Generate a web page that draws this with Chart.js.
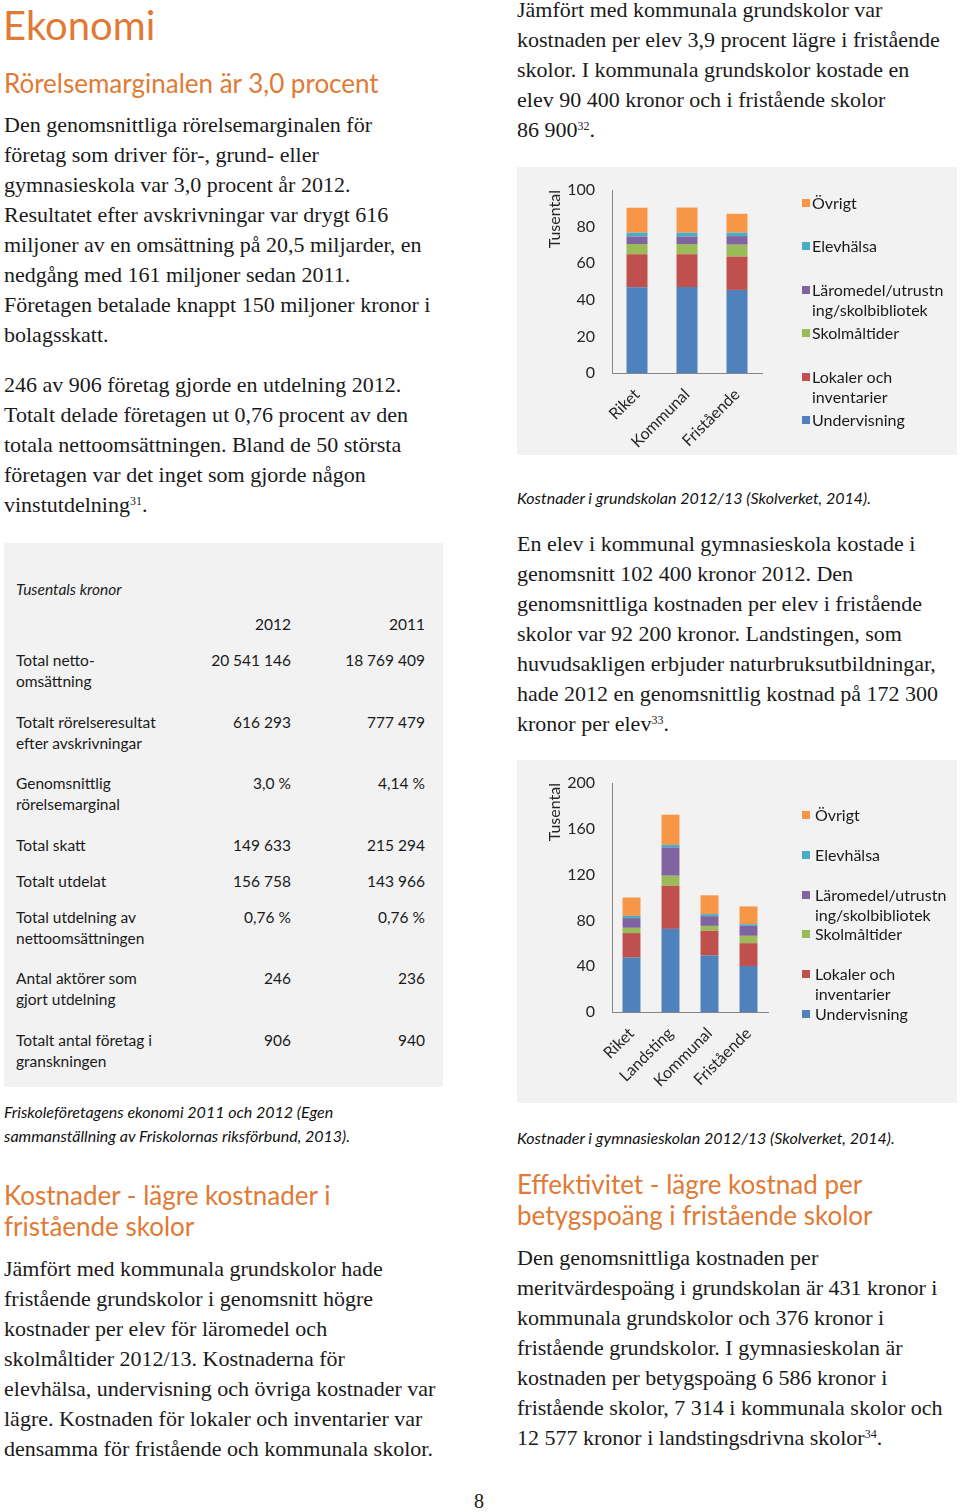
<!DOCTYPE html>
<html lang="sv">
<head>
<meta charset="utf-8">
<title>Ekonomi</title>
<script src="https://cdn.jsdelivr.net/npm/chart.js@4.4.0/dist/chart.umd.min.js"></script>
<style>
    html, body { margin: 0; padding: 0; background: #fff; }
    body { width: 960px; height: 1512px; position: relative; overflow: hidden; color: #111; }
    .abs { position: absolute; white-space: nowrap; }
    .body-text { font-family: "Liberation Serif", serif; font-size: 22px; line-height: 30px; color: #1a1a1a; }
    .body-text sup { font-size: 12px; line-height: 0; vertical-align: 7px; }
    .h1 { font-family: Lato, sans-serif; font-size: 40px; line-height: 48px; color: #e07a35; }
    .h2 { font-family: Lato, sans-serif; font-size: 26px; line-height: 31px; color: #e07a35; }
    .caption { font-family: Lato, sans-serif; font-style: italic; font-size: 16px; line-height: 24px; color: #111; }
    .box { position: absolute; background: #f2f2f2; }
    .tbl { font-family: Lato, sans-serif; font-size: 15.5px; line-height: 21px; color: #1a1a1a; border-collapse: collapse; table-layout: fixed; }
    .tbl td { padding: 0; vertical-align: top; white-space: nowrap; }
    .tbl td.num { text-align: right; }
    .legend { position: absolute; font-family: Lato, sans-serif; font-size: 16px; line-height: 20px; color: #1a1a1a; }
    .legend .item { position: relative; }
    .legend .sw { position: absolute; left: 0; top: 6px; width: 8px; height: 8px; }
</style>
</head>
<body>

<div class="abs h1" style="left:3px; top:1px;">Ekonomi</div>
<div class="abs h2" style="left:4px; top:68px;">Rörelsemarginalen är 3,0 procent</div>
<div class="abs body-text" style="left:4px; top:110px;">Den genomsnittliga rörelsemarginalen för<br>företag som driver för-, grund- eller<br>gymnasieskola var 3,0 procent år 2012.<br>Resultatet efter avskrivningar var drygt 616<br>miljoner av en omsättning på 20,5 miljarder, en<br>nedgång med 161 miljoner sedan 2011.<br>Företagen betalade knappt 150 miljoner kronor i<br>bolagsskatt.</div>
<div class="abs body-text" style="left:4px; top:370px;">246 av 906 företag gjorde en utdelning 2012.<br>Totalt delade företagen ut 0,76 procent av den<br>totala nettoomsättningen. Bland de 50 största<br>företagen var det inget som gjorde någon<br>vinstutdelning<sup>31</sup>.</div>

<div class="box" style="left:4px; top:543px; width:439px; height:544px;"></div>
<div class="abs caption" style="left:16px; top:577px; font-size:15.5px; color:#1a1a1a;">Tusentals kronor</div>
<table class="tbl abs" id="ekonomiTable" style="left:16px; top:614px; width:409px;"></table>

<div class="abs caption" style="left:4px; top:1100px;">Friskoleföretagens ekonomi 2011 och 2012 (Egen<br>sammanställning av Friskolornas riksförbund, 2013).</div>
<div class="abs h2" style="left:4px; top:1180px;">Kostnader - lägre kostnader i<br>fristående skolor</div>
<div class="abs body-text" style="left:4px; top:1254px;">Jämfört med kommunala grundskolor hade<br>fristående grundskolor i genomsnitt högre<br>kostnader per elev för läromedel och<br>skolmåltider 2012/13. Kostnaderna för<br>elevhälsa, undervisning och övriga kostnader var<br>lägre. Kostnaden för lokaler och inventarier var<br>densamma för fristående och kommunala skolor.</div>

<div class="abs body-text" style="left:517px; top:-5px;">Jämfört med kommunala grundskolor var<br>kostnaden per elev 3,9 procent lägre i fristående<br>skolor. I kommunala grundskolor kostade en<br>elev 90 400 kronor och i fristående skolor<br>86 900<sup>32</sup>.</div>

<div class="box" style="left:517px; top:167px; width:440px; height:288px;"></div>
<canvas id="grundChart" width="440" height="288" style="position:absolute; left:517px; top:167px;"></canvas>
<div class="legend" id="grundLegend" style="left:802px; top:193px;"></div>
<div class="abs caption" style="left:517px; top:486px;">Kostnader i grundskolan 2012/13 (Skolverket, 2014).</div>

<div class="abs body-text" style="left:517px; top:529px;">En elev i kommunal gymnasieskola kostade i<br>genomsnitt 102 400 kronor 2012. Den<br>genomsnittliga kostnaden per elev i fristående<br>skolor var 92 200 kronor. Landstingen, som<br>huvudsakligen erbjuder naturbruksutbildningar,<br>hade 2012 en genomsnittlig kostnad på 172 300<br>kronor per elev<sup>33</sup>.</div>

<div class="box" style="left:517px; top:760px; width:440px; height:343px;"></div>
<canvas id="gymnChart" width="440" height="343" style="position:absolute; left:517px; top:760px;"></canvas>
<div class="legend" id="gymnLegend" style="left:802px; top:805px;"></div>
<div class="abs caption" style="left:517px; top:1126px;">Kostnader i gymnasieskolan 2012/13 (Skolverket, 2014).</div>

<div class="abs h2" style="left:517px; top:1169px;">Effektivitet - lägre kostnad per<br>betygspoäng i fristående skolor</div>
<div class="abs body-text" style="left:517px; top:1243px;">Den genomsnittliga kostnaden per<br>meritvärdespoäng i grundskolan är 431 kronor i<br>kommunala grundskolor och 376 kronor i<br>fristående grundskolor. I gymnasieskolan är<br>kostnaden per betygspoäng 6 586 kronor i<br>fristående skolor, 7 314 i kommunala skolor och<br>12 577 kronor i landstingsdrivna skolor<sup>34</sup>.</div>

<div class="abs body-text" style="left:474px; top:1486px; font-size:20px;">8</div>

<script>
// serier, nedifrån och upp i staplarna
const SERIES_NAMES = ['Undervisning', 'Lokaler och inventarier', 'Skolmåltider', 'Läromedel/utrustning/skolbibliotek', 'Elevhälsa', 'Övrigt'];
const LEGEND_LABELS = ['Undervisning', 'Lokaler och<br>inventarier', 'Skolmåltider', 'Läromedel/utrustn<br>ing/skolbibliotek', 'Elevhälsa', 'Övrigt'];
const SERIES_COLORS = ['#4f81bd', '#c0504d', '#9bbb59', '#8064a2', '#4bacc6', '#f79646'];

// grundskolan 2012/13, tusental kronor per elev
const grundCategories = ['Riket', 'Kommunal', 'Fristående'];
const grundUndervisning = [46.8, 47.0, 45.4];
const grundLokaler = [18.1, 17.9, 18.2];
const grundSkolmaltider = [5.6, 5.6, 6.5];
const grundLaromedel = [4.1, 4.1, 4.7];
const grundElevhalsa = [2.1, 2.1, 1.9];
const grundOvrigt = [13.6, 13.7, 10.3];

// gymnasieskolan 2012/13, tusental kronor per elev
const gymnCategories = ['Riket', 'Landsting', 'Kommunal', 'Fristående'];
const gymnUndervisning = [47.5, 72.6, 49.3, 40.2];
const gymnLokaler = [21.4, 37.6, 21.6, 19.9];
const gymnSkolmaltider = [4.6, 8.8, 4.3, 6.4];
const gymnLaromedel = [8.5, 24.8, 8.5, 8.7];
const gymnElevhalsa = [2.0, 2.2, 1.8, 1.5];
const gymnOvrigt = [16.0, 26.3, 16.4, 15.5];

// tabellen
const tableYears = ['2012', '2011'];
const tableLabels = [
    'Total netto-<br>omsättning',
    'Totalt rörelseresultat<br>efter avskrivningar',
    'Genomsnittlig<br>rörelsemarginal',
    'Total skatt',
    'Totalt utdelat',
    'Total utdelning av<br>nettoomsättningen',
    'Antal aktörer som<br>gjort utdelning',
    'Totalt antal företag i<br>granskningen'
];
const table2012 = ['20 541 146', '616 293', '3,0 %', '149 633', '156 758', '0,76 %', '246', '906'];
const table2011 = ['18 769 409', '777 479', '4,14 %', '215 294', '143 966', '0,76 %', '236', '940'];

const FONT = 'Lato, sans-serif';
const TEXT_COLOR = '#262626';
const AXIS_COLOR = '#868686';

function renderTable() {
    const table = document.getElementById('ekonomiTable');
    let html = '<colgroup><col style="width:170px"><col style="width:105px"><col style="width:134px"></colgroup>';
    html += '<tr style="height:36px"><td></td>' +
        tableYears.map(y => `<td class="num">${y}</td>`).join('') + '</tr>';
    tableLabels.forEach((label, i) => {
        const h = label.includes('<br>') ? 61.5 : 36;
        html += `<tr style="height:${h}px"><td>${label}</td><td class="num">${table2012[i]}</td><td class="num">${table2011[i]}</td></tr>`;
    });
    table.innerHTML = html;
}

function renderLegend(id, slotHeight, textIndent) {
    const el = document.getElementById(id);
    // Excel-ordning: översta serien först
    el.innerHTML = LEGEND_LABELS.map((label, i) => ({ label, color: SERIES_COLORS[i] }))
        .reverse()
        .map(item => `<div class="item" style="height:${slotHeight}px; padding-left:${textIndent}px">
            <span class="sw" style="background:${item.color}"></span>${item.label}</div>`)
        .join('');
}

function createStackedChart(canvasId, categories, seriesValues, yMax, yStep, opts) {
    const canvas = document.getElementById(canvasId);
    if (!canvas) return null;

    return new Chart(canvas, {
        type: 'bar',
        data: {
            labels: categories,
            datasets: seriesValues.map((values, i) => ({
                label: SERIES_NAMES[i],
                data: values,
                backgroundColor: SERIES_COLORS[i],
                borderWidth: 0,
                categoryPercentage: 1,
                barPercentage: opts.barPercentage
            }))
        },
        options: {
            responsive: false,
            animation: false,
            devicePixelRatio: 1,
            layout: { padding: { left: 0, top: 23, right: opts.rightPad, bottom: 0 } },
            plugins: {
                legend: { display: false },
                tooltip: { enabled: false }
            },
            scales: {
                x: {
                    stacked: true,
                    grid: { display: false },
                    border: { display: true, color: AXIS_COLOR, width: 1 },
                    ticks: {
                        color: TEXT_COLOR,
                        font: { family: FONT, size: 16 },
                        minRotation: 45,
                        maxRotation: 45,
                        padding: 4
                    },
                    afterFit: scale => { scale.height = opts.xHeight; }
                },
                y: {
                    stacked: true,
                    min: 0,
                    max: yMax,
                    grid: { display: false },
                    border: { display: true, color: AXIS_COLOR, width: 1 },
                    ticks: {
                        stepSize: yStep,
                        color: TEXT_COLOR,
                        font: { family: FONT, size: 16 },
                        padding: 9
                    },
                    title: {
                        display: true,
                        text: 'Tusental',
                        align: 'end',
                        color: TEXT_COLOR,
                        font: { family: FONT, size: 16 },
                        padding: { top: 28, bottom: 0 }
                    },
                    afterFit: scale => { scale.width = 95; }
                }
            }
        }
    });
}

renderTable();
renderLegend('grundLegend', 43.4, 10);
renderLegend('gymnLegend', 39.8, 13);

createStackedChart('grundChart', grundCategories,
    [grundUndervisning, grundLokaler, grundSkolmaltider, grundLaromedel, grundElevhalsa, grundOvrigt],
    100, 20, { barPercentage: 0.42, rightPad: 195, xHeight: 82 });

createStackedChart('gymnChart', gymnCategories,
    [gymnUndervisning, gymnLokaler, gymnSkolmaltider, gymnLaromedel, gymnElevhalsa, gymnOvrigt],
    200, 40, { barPercentage: 0.46, rightPad: 189, xHeight: 91 });
</script>
</body>
</html>
